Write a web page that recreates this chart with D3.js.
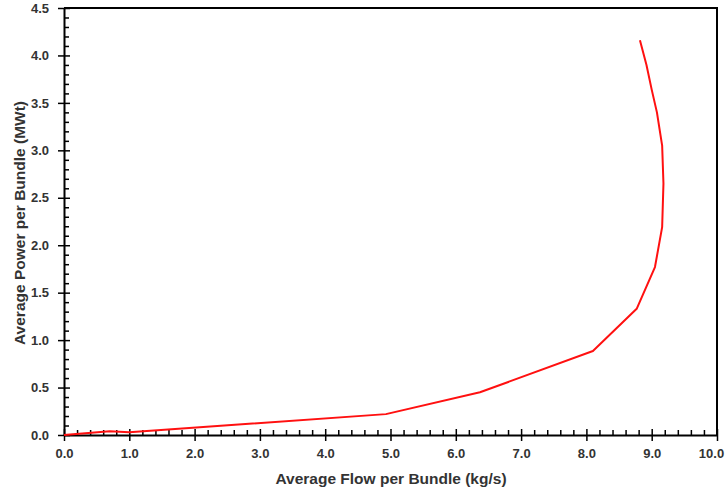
<!DOCTYPE html>
<html>
<head>
<meta charset="utf-8">
<script src="https://cdn.jsdelivr.net/npm/d3@7"></script>
<style>
  html, body { margin: 0; padding: 0; background: #fff; }
  svg { display: block; }
  text { font-family: "Liberation Sans", Arial, sans-serif; }
</style>
</head>
<body>
<svg id="chart" width="727" height="492"></svg>
<script>
// Average flow per bundle (kg/s) and average power per bundle (MWt)
const flow  = [0.0, 0.7, 1.0, 4.93, 6.37, 8.10, 8.77, 9.05, 9.16, 9.18, 9.16, 9.08, 9.00, 8.92, 8.82];
const power = [0.0, 0.04, 0.03, 0.22, 0.45, 0.885, 1.33, 1.77, 2.19, 2.65, 3.05, 3.40, 3.64, 3.90, 4.16];

const xTicks = [0, 1, 2, 3, 4, 5, 6, 7, 8, 9, 10];
const yTicks = [0, 0.5, 1.0, 1.5, 2.0, 2.5, 3.0, 3.5, 4.0, 4.5];

const xTitle = "Average Flow per Bundle (kg/s)";
const yTitle = "Average Power per Bundle (MWt)";

const W = 727, H = 492;
const m = { left: 64, right: 10, top: 8, bottom: 57 };

const svg = d3.select("#chart");

const x = d3.scaleLinear().domain([0, 10]).range([m.left, W - m.right]);
const y = d3.scaleLinear().domain([0, 4.5]).range([H - m.bottom, m.top]);

// frame (top and right edges)
svg.append("path")
  .attr("d", `M${x(0)},${y(4.5)}H${x(10)}V${y(0)}`)
  .attr("fill", "none").attr("stroke", "#000").attr("stroke-width", 2);

// minor ticks, pointing into the plot
const xMinor = d3.range(0, 10.001, 0.2).filter(v => Math.abs(v - Math.round(v)) > 1e-6);
const yMinor = d3.range(0, 4.501, 0.1).filter(v => Math.abs(v * 2 - Math.round(v * 2)) > 1e-6);

svg.append("g").attr("transform", `translate(0,${y(0)})`)
  .call(d3.axisTop(x).tickValues(xMinor).tickSize(5).tickFormat(""))
  .call(g => g.select(".domain").remove())
  .call(g => g.selectAll("line").attr("stroke", "#000").attr("stroke-width", 1.5));

svg.append("g").attr("transform", `translate(${x(0)},0)`)
  .call(d3.axisRight(y).tickValues(yMinor).tickSize(5).tickFormat(""))
  .call(g => g.select(".domain").remove())
  .call(g => g.selectAll("line").attr("stroke", "#000").attr("stroke-width", 1.5));

// major axes, ticks crossing the axis line
const xAxis = svg.append("g").attr("transform", `translate(0,${y(0)})`)
  .call(d3.axisBottom(x).tickValues(xTicks).tickSizeInner(5).tickSizeOuter(0)
        .tickPadding(9).tickFormat(d3.format(".1f")));
xAxis.select(".domain").attr("stroke", "#000").attr("stroke-width", 2);
xAxis.selectAll(".tick line").attr("y1", -6).attr("y2", 6).attr("stroke-width", 1.5);
xAxis.selectAll("text").attr("font-size", 13).attr("font-weight", "bold")
  .attr("fill", "#333").attr("font-family", "Liberation Sans, Arial, sans-serif");
// keep the last label inside the page edge
xAxis.selectAll(".tick").filter(d => d === 10).select("text").attr("dx", -6);

const yAxis = svg.append("g").attr("transform", `translate(${x(0)},0)`)
  .call(d3.axisLeft(y).tickValues(yTicks).tickSizeInner(5).tickSizeOuter(0)
        .tickPadding(10).tickFormat(d3.format(".1f")));
yAxis.select(".domain").attr("stroke", "#000").attr("stroke-width", 2);
yAxis.selectAll(".tick line").attr("x1", -6).attr("x2", 6).attr("stroke-width", 1.5);
yAxis.selectAll("text").attr("font-size", 13).attr("font-weight", "bold")
  .attr("fill", "#333").attr("font-family", "Liberation Sans, Arial, sans-serif");

// power vs flow curve
const pts = flow.map((f, i) => [f, power[i]]);
svg.append("path")
  .datum(pts)
  .attr("fill", "none")
  .attr("stroke", "#ff1010")
  .attr("stroke-width", 2)
  .attr("stroke-linejoin", "round")
  .attr("d", d3.line().x(d => x(d[0])).y(d => y(d[1])));

// axis titles
svg.append("text")
  .attr("x", 391).attr("y", 484)
  .attr("text-anchor", "middle")
  .attr("font-size", 15.5).attr("font-weight", "bold").attr("fill", "#333")
  .text(xTitle);

svg.append("text")
  .attr("transform", `translate(25,223) rotate(-90)`)
  .attr("text-anchor", "middle")
  .attr("font-size", 15.5).attr("font-weight", "bold").attr("fill", "#333")
  .text(yTitle);
</script>
</body>
</html>
